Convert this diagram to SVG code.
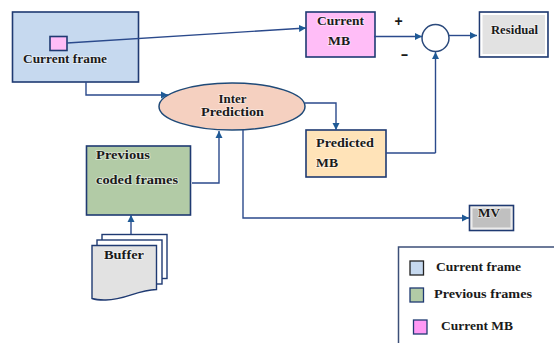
<svg xmlns="http://www.w3.org/2000/svg" width="554" height="343" viewBox="0 0 554 343">
<defs>
<marker id="ah" markerUnits="userSpaceOnUse" markerWidth="8" markerHeight="8" refX="7" refY="4" orient="auto"><path d="M0,0.5L7,4L0,7.5Z" fill="#1f5a96"/></marker>
</defs>
<style>
text{font-family:"Liberation Serif","DejaVu Serif",serif;font-weight:bold;fill:#1a1a1a;font-size:12px;stroke:#fff;stroke-width:1.500px;stroke-opacity:.55;paint-order:stroke;stroke-linejoin:round}
.b{stroke:#1f3a72;stroke-width:1.6}
.c{fill:none;stroke:#2b4a8c;stroke-width:1.4}
.a{marker-end:url(#ah)}
.i{fill:none;stroke:#fff;stroke-width:2}
.s{font-family:"Liberation Sans",Arial,sans-serif;stroke:none}
</style>
<rect width="554" height="343" fill="#fff"/>
<g id="current-frame">
<rect class="b" x="12.500" y="12" width="126" height="70" fill="#c6d9ef"/>
<text x="23" y="63" textLength="84" lengthAdjust="spacingAndGlyphs">Current frame</text>
</g>
<g id="current-mb-inner"><rect class="b" x="50" y="36.500" width="17" height="14" fill="#ffbdf7"/></g>
<g id="current-mb">
<rect class="b" x="306" y="12" width="69" height="45" fill="#ffbdf7"/>
<text x="317" y="25" textLength="47" lengthAdjust="spacingAndGlyphs">Current</text><text x="328" y="44.500" textLength="22" lengthAdjust="spacingAndGlyphs">MB</text>
</g>
<g id="subtractor">
<circle cx="435.500" cy="38" r="13.500" fill="#fff" stroke="#2b4a7c" stroke-width="1.5"/>
</g>
<g id="plus"><text class="s" x="394.500" y="26" style="font-size:14px">+</text></g>
<g id="minus"><text class="s" x="400.500" y="59" style="font-size:15px" textLength="8" lengthAdjust="spacingAndGlyphs">-</text></g>
<g id="residual">
<rect class="b" x="479.500" y="12" width="68.500" height="45" fill="#e2e2e2"/>
<rect class="i" x="481.500" y="14" width="64.500" height="41"/>
<text x="491" y="33.500" textLength="47" lengthAdjust="spacingAndGlyphs">Residual</text>
</g>
<g id="inter-prediction">
<ellipse cx="232" cy="106.500" rx="73" ry="23.500" fill="#f5d0c0" stroke="#1f4a78" stroke-width="1.500"/>
<text x="218.500" y="103" textLength="28" lengthAdjust="spacingAndGlyphs">Inter</text>
<text x="201" y="115.500" textLength="63" lengthAdjust="spacingAndGlyphs">Prediction</text>
</g>
<g id="predicted-mb">
<rect class="b" x="306" y="130" width="80" height="47" fill="#ffe3b8"/>
<text x="316" y="147" textLength="58" lengthAdjust="spacingAndGlyphs">Predicted</text><text x="316" y="167" textLength="22" lengthAdjust="spacingAndGlyphs">MB</text>
</g>
<g id="previous-coded-frames">
<rect class="b" x="86.500" y="146" width="104" height="69" fill="#b2cba6"/>
<text x="96" y="159" textLength="54" lengthAdjust="spacingAndGlyphs">Previous</text><text x="96" y="184" textLength="82" lengthAdjust="spacingAndGlyphs">coded frames</text>
</g>
<g id="buffer">
<rect x="102" y="234.500" width="65" height="44" fill="#fff" stroke="#1f3a72" stroke-width="1.400"/>
<rect x="97" y="240" width="65" height="44" fill="#fff" stroke="#1f3a72" stroke-width="1.400"/>
<path d="M92,245.500H156.500V289.500C136,290 124,301 104,300C99,300 95,299.500 92,298.500Z" fill="#e2e2e2" stroke="#1f3a72" stroke-width="1.400"/>
<text x="104" y="259" textLength="40" lengthAdjust="spacingAndGlyphs">Buffer</text>
</g>
<g id="mv">
<rect class="b" x="469.500" y="205.500" width="44" height="25" fill="#c0c0c0"/>
<rect class="i" x="471.500" y="207.500" width="40" height="21" stroke-opacity=".7"/>
<text x="478" y="217" textLength="22" lengthAdjust="spacingAndGlyphs">MV</text>
</g>
<g id="legend">
<path d="M554,247H398.500V343" fill="none" stroke="#3c4f78" stroke-width="1.500"/>
<rect x="410" y="261" width="13.500" height="14" fill="#c6d9ef" stroke="#222" stroke-width="1.300"/>
<text x="436" y="271" textLength="85" lengthAdjust="spacingAndGlyphs">Current frame</text>
<rect x="410" y="288" width="13.500" height="14" fill="#b2cba6" stroke="#1f3a72" stroke-width="1.300"/>
<text x="434" y="298" textLength="98" lengthAdjust="spacingAndGlyphs">Previous frames</text>
<rect x="413.500" y="320" width="13.500" height="14" fill="#ff99f5" stroke="#1f3a72" stroke-width="1.300"/>
<text x="441" y="329.500" textLength="72" lengthAdjust="spacingAndGlyphs">Current MB</text>
</g>
<g id="connectors">
<path class="c a" d="M67,43L306,28"/>
<path class="c a" d="M86,82V95H168"/>
<path class="c a" d="M374,36.500H422"/>
<path class="c a" d="M449,35.500H477"/>
<path class="c" d="M386,153H435.500"/>
<path class="c a" d="M435.500,153V52"/>
<path class="c a" d="M305,103H336V130"/>
<path class="c a" d="M192,183H219V131"/>
<path class="c a" d="M243,130V218H469"/>
<path class="c a" d="M131,234V215"/>
</g>
</svg>
